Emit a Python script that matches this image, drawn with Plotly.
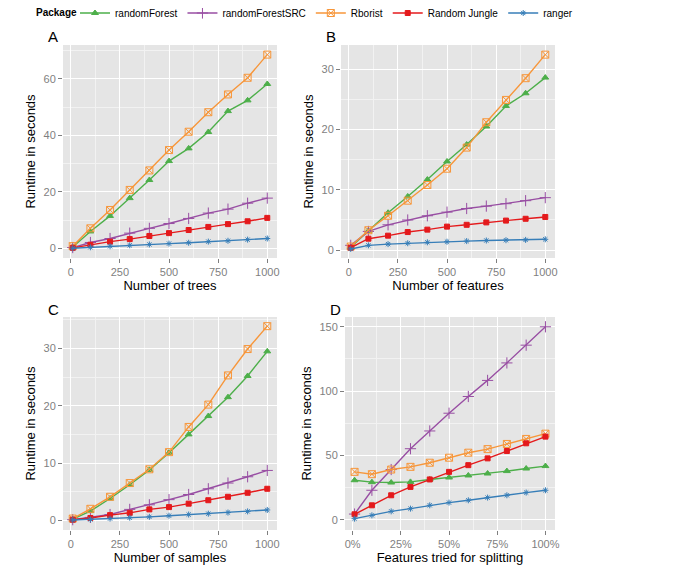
import plotly.graph_objects as go

# ---------------- data ----------------
packages = ["randomForest", "randomForestSRC", "Rborist", "Random Jungle", "ranger"]
colors = {"randomForest": "#4DAF4A", "randomForestSRC": "#984EA3", "Rborist": "#F7963A",
          "Random Jungle": "#E41A1C", "ranger": "#377EB8"}
symbols = {"randomForest": "triangle-up", "randomForestSRC": "cross-thin-open", "Rborist": "square-x-open",
           "Random Jungle": "square", "ranger": "asterisk-open"}
sizes = {"randomForest": 6, "randomForestSRC": 8, "Rborist": 7, "Random Jungle": 5, "ranger": 5}

x_trees = [10, 100, 200, 300, 400, 500, 600, 700, 800, 900, 1000]
x_features = [10, 100, 200, 300, 400, 500, 600, 700, 800, 900, 1000]
x_samples = [10, 100, 200, 300, 400, 500, 600, 700, 800, 900, 1000]
x_mtry = [0.01, 0.1, 0.2, 0.3, 0.4, 0.5, 0.6, 0.7, 0.8, 0.9, 1.0]

trees_randomForest = [0.5, 6.0, 11.5, 17.8, 24.2, 30.9, 35.4, 41.2, 48.6, 52.4, 58.2]
trees_randomForestSRC = [0.3, 2.1, 3.5, 5.4, 7.1, 8.8, 10.6, 12.5, 13.9, 16.0, 17.8]
trees_Rborist = [0.8, 7.1, 13.6, 20.7, 27.6, 34.8, 41.3, 48.2, 54.5, 60.4, 68.6]
trees_RandomJungle = [0.2, 1.3, 2.4, 3.3, 4.4, 5.4, 6.5, 7.6, 8.6, 9.6, 10.8]
trees_ranger = [0.05, 0.4, 0.75, 1.1, 1.4, 1.7, 2.0, 2.4, 2.7, 3.1, 3.5]

feat_randomForest = [0.5, 3.2, 6.2, 8.9, 11.7, 14.7, 17.5, 20.5, 23.9, 26.0, 28.6]
feat_randomForestSRC = [0.8, 3.1, 4.2, 5.0, 5.7, 6.3, 6.9, 7.3, 7.7, 8.2, 8.7]
feat_Rborist = [0.6, 3.3, 5.7, 8.2, 10.8, 13.5, 17.0, 21.2, 24.9, 28.5, 32.4]
feat_RandomJungle = [0.4, 1.9, 2.4, 3.0, 3.4, 3.9, 4.2, 4.6, 4.9, 5.2, 5.5]
feat_ranger = [0.2, 0.8, 1.0, 1.15, 1.3, 1.4, 1.5, 1.6, 1.65, 1.7, 1.8]

samp_randomForest = [0.2, 1.6, 3.8, 6.2, 8.8, 11.8, 15.0, 18.2, 21.5, 25.2, 29.5]
samp_randomForestSRC = [0.1, 0.5, 1.0, 1.9, 2.7, 3.6, 4.5, 5.5, 6.5, 7.6, 8.7]
samp_Rborist = [0.3, 2.0, 4.1, 6.5, 8.9, 11.9, 16.3, 20.2, 25.3, 29.9, 33.9]
samp_RandomJungle = [0.1, 0.4, 0.9, 1.3, 1.9, 2.3, 2.9, 3.5, 4.1, 4.8, 5.5]
samp_ranger = [0.05, 0.15, 0.3, 0.45, 0.6, 0.8, 1.0, 1.15, 1.35, 1.55, 1.8]

mtry_randomForest = [30.7, 29.2, 28.9, 29.4, 31.3, 32.8, 34.4, 35.9, 37.8, 39.8, 41.7]
mtry_randomForestSRC = [4.4, 22.9, 39.0, 55.2, 69.0, 82.8, 95.8, 108.3, 121.9, 135.7, 150.0]
mtry_Rborist = [37.2, 35.4, 39.0, 41.1, 44.3, 48.2, 52.1, 54.9, 58.9, 62.8, 66.9]
mtry_RandomJungle = [4.2, 11.2, 19.0, 25.5, 31.3, 37.2, 42.4, 47.7, 53.4, 59.4, 64.6]
mtry_ranger = [0.8, 3.4, 6.5, 8.6, 11.2, 13.3, 15.1, 17.2, 19.0, 21.1, 22.9]

panels = [
    ("A", "Number of trees", x_trees,
     [trees_randomForest, trees_randomForestSRC, trees_Rborist, trees_RandomJungle, trees_ranger]),
    ("B", "Number of features", x_features,
     [feat_randomForest, feat_randomForestSRC, feat_Rborist, feat_RandomJungle, feat_ranger]),
    ("C", "Number of samples", x_samples,
     [samp_randomForest, samp_randomForestSRC, samp_Rborist, samp_RandomJungle, samp_ranger]),
    ("D", "Features tried for splitting", x_mtry,
     [mtry_randomForest, mtry_randomForestSRC, mtry_Rborist, mtry_RandomJungle, mtry_ranger]),
]

# ---------------- layout ----------------
OFF = 8  # browser body margin
W, H = 687 - 2 * OFF, 583 - 2 * OFF
px_domains = {  # (x0, x1, ytop, ybottom) in page pixels
    "A": (63, 277, 45, 258),
    "B": (341, 555, 45, 258),
    "C": (63, 277, 317, 530),
    "D": (345, 555, 317, 530),
}
y_ranges = {"A": [-3.4, 72.0], "B": [-1.3, 34.0], "C": [-1.7, 35.5], "D": [-8.0, 157.6]}
y_dticks = {"A": 20, "B": 10, "C": 10, "D": 50}
x_ranges = {"A": [-39.5, 1049.5], "B": [-39.5, 1049.5], "C": [-39.5, 1049.5], "D": [-0.0395, 1.0495]}

fig = go.Figure()
font_family = "Liberation Sans, Arial, sans-serif"
tick_font = dict(family=font_family, size=11, color="#7F7F7F")
title_font = dict(family=font_family, size=13, color="#000000")

for i, (lab, xtitle, xs, series) in enumerate(panels):
    ax = "" if i == 0 else str(i + 1)
    for pkg, ys in zip(packages, series):
        fig.add_trace(go.Scatter(
            x=xs, y=ys, mode="lines+markers", name=pkg,
            legendgroup=pkg, showlegend=(i == 0),
            line=dict(color=colors[pkg], width=1.4),
            marker=dict(symbol=symbols[pkg], size=sizes[pkg], color=colors[pkg],
                        line=dict(color=colors[pkg], width=1.0)),
            xaxis="x" + ax, yaxis="y" + ax,
        ))
    x0, x1, yt, yb = [v - OFF for v in px_domains[lab]]
    xd = [x0 / W, x1 / W]
    yd = [1 - yb / H, 1 - yt / H]
    xkw = dict(domain=xd, anchor="y" + ax, range=x_ranges[lab],
               showgrid=True, gridcolor="#FFFFFF", gridwidth=1, zeroline=False,
               ticks="outside", ticklen=4, tickcolor="#7F7F7F", tickfont=tick_font,
               title=dict(text=xtitle, font=title_font, standoff=2),
               showline=False, automargin=False)
    if lab == "D":
        xkw.update(tickvals=[0, 0.25, 0.5, 0.75, 1.0], tickformat=".0%",
                   minor=dict(dtick=0.125, tick0=0.125, showgrid=True, gridcolor="#F2F2F2", gridwidth=0.6))
    else:
        xkw.update(tick0=0, dtick=250,
                   minor=dict(dtick=125, tick0=125, showgrid=True, gridcolor="#F2F2F2", gridwidth=0.6))
    ykw = dict(domain=yd, anchor="x" + ax, range=y_ranges[lab], tick0=0, dtick=y_dticks[lab],
               showgrid=True, gridcolor="#FFFFFF", gridwidth=1, zeroline=False,
               ticks="outside", ticklen=4, tickcolor="#7F7F7F", tickfont=tick_font,
               title=dict(text="Runtime in seconds", font=title_font, standoff=4),
               minor=dict(dtick=y_dticks[lab] / 2, tick0=y_dticks[lab] / 2, showgrid=True,
                          gridcolor="#F2F2F2", gridwidth=0.6),
               showline=False, automargin=False)
    fig.layout["xaxis" + ax] = xkw
    fig.layout["yaxis" + ax] = ykw
    fig.add_annotation(text=lab, x=(x0 - 10) / W, y=1 - (yt - 8) / H, xref="paper", yref="paper",
                       xanchor="center", yanchor="middle", showarrow=False,
                       font=dict(family=font_family, size=15, color="#000000"))
    fig.add_shape(type="rect", xref="paper", yref="paper", x0=xd[0], x1=xd[1], y0=yd[0], y1=yd[1],
                  fillcolor="#E5E5E5", line=dict(width=0), layer="below")

LEG_Y = 13  # page pixel row of the legend centre
# legend title as a separate label so it sits on the same line as the entries
fig.add_annotation(text="<b>Package</b>", x=(34 - OFF) / W, y=1 - (LEG_Y - OFF) / H,
                   xref="paper", yref="paper", xanchor="left", yanchor="middle", showarrow=False,
                   font=dict(family=font_family, size=10, color="#000000"))

fig.update_layout(
    width=W, height=H,
    margin=dict(l=0, r=0, t=0, b=0, autoexpand=False),
    paper_bgcolor="#FFFFFF", plot_bgcolor="rgba(0,0,0,0)",
    font=dict(family=font_family),
    legend=dict(orientation="h", x=(75 - OFF) / W, y=1 - (LEG_Y - OFF) / H, xanchor="left", yanchor="middle",
                font=dict(size=10, color="#000000"), itemwidth=30, tracegroupgap=0,
                bgcolor="rgba(0,0,0,0)", valign="middle"),
)

fig.write_html("out.html")
